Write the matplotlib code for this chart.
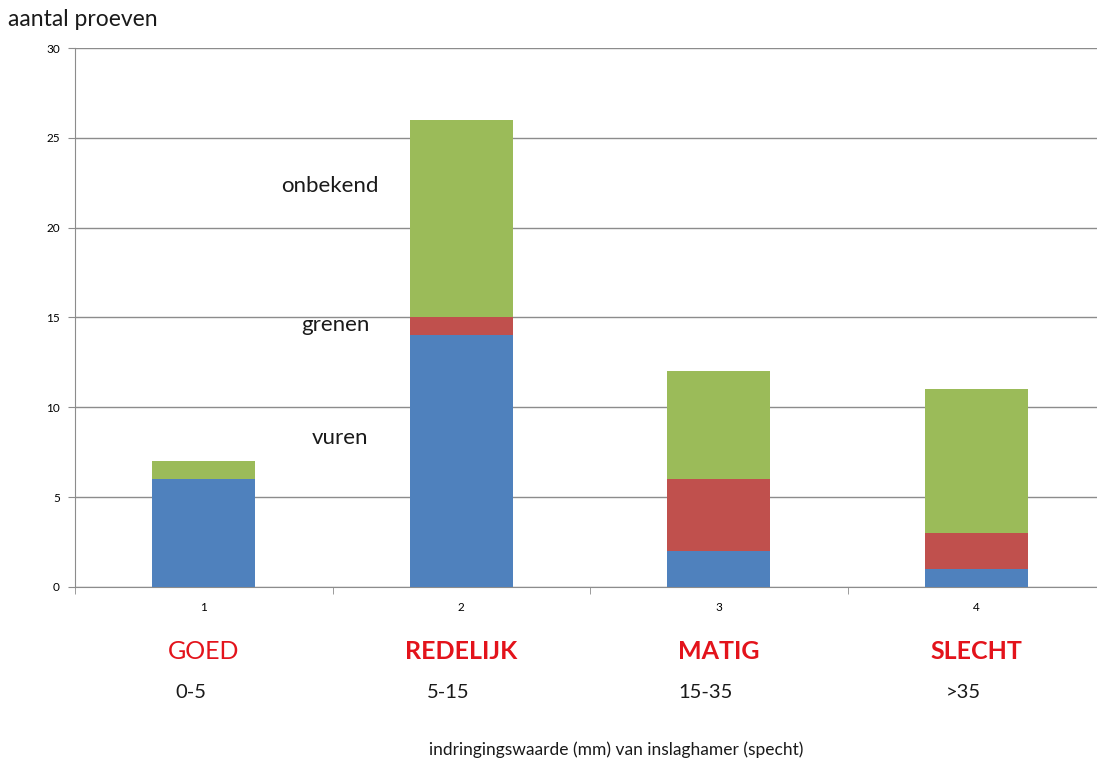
import matplotlib.pyplot as plt
import numpy as np

plt.rcParams['font.family'] = ['Lato', 'DejaVu Sans']

# data
categories = [1, 2, 3, 4]
vuren = [6, 14, 2, 1]
grenen = [0, 1, 4, 2]
onbekend = [1, 11, 6, 8]
kwaliteit = ['GOED', 'REDELIJK', 'MATIG', 'SLECHT']
bereik = ['0-5', '5-15', '15-35', '>35']

fig = plt.figure(figsize=(10.97, 7.67), dpi=100)
ax = fig.add_axes([0.0684, 0.2347, 0.9389, 0.7027])

x = np.array(categories)
w = 0.4
ax.bar(x, vuren, w, color='#4F81BD', zorder=3)
ax.bar(x, grenen, w, bottom=vuren, color='#C0504D', zorder=3)
ax.bar(x, onbekend, w, bottom=np.array(vuren) + np.array(grenen), color='#9BBB59', zorder=3)

ax.set_xlim(0.5, 4.5)
ax.set_ylim(0, 30)
ax.set_yticks(range(0, 31, 5))
ax.yaxis.grid(True, color='#8c8c8c', linewidth=1, zorder=0)
ax.set_axisbelow(True)

ax.set_xticks(x)
ax.set_xticks([0.5, 1.5, 2.5, 3.5], minor=True)
ax.tick_params(axis='x', which='major', length=0, labelsize=8.5, pad=11)
ax.tick_params(axis='x', which='minor', length=5, color='#8c8c8c', direction='out')
ax.tick_params(axis='y', length=5, color='#8c8c8c', labelsize=8.5, pad=6)
for s in ['top', 'right']:
    ax.spines[s].set_visible(False)
for s in ['left', 'bottom']:
    ax.spines[s].set_color('#8c8c8c')

# labels of the series, next to the second bar
ax.text(1.49, 22.3, 'onbekend', fontsize=16, ha='center', va='center', color='#1a1a1a')
ax.text(1.51, 14.6, 'grenen', fontsize=16, ha='center', va='center', color='#1a1a1a')
ax.text(1.53, 8.3, 'vuren', fontsize=16, ha='center', va='center', color='#1a1a1a')

# category labels below the axis
trans = ax.get_xaxis_transform()
for xi, k, b in zip(x, kwaliteit, bereik):
    ax.text(xi, -0.12, k, transform=trans, color='#E3131B', fontsize=18,
            fontweight='normal' if k == 'GOED' else 'bold',
            ha='center', va='center')
    ax.text(xi - 0.05, -0.195, b, transform=trans, fontsize=14.5,
            ha='center', va='center', color='#1a1a1a')

fig.text(0.0073, 0.974, 'aantal proeven', fontsize=16.5, ha='left', va='center',
         color='#1a1a1a')
fig.text(0.5615, 0.022, 'indringingswaarde (mm) van inslaghamer (specht)',
         fontsize=12.5, ha='center', va='center', color='#1a1a1a')

fig.savefig('out.png', dpi=100)
plt.close()
